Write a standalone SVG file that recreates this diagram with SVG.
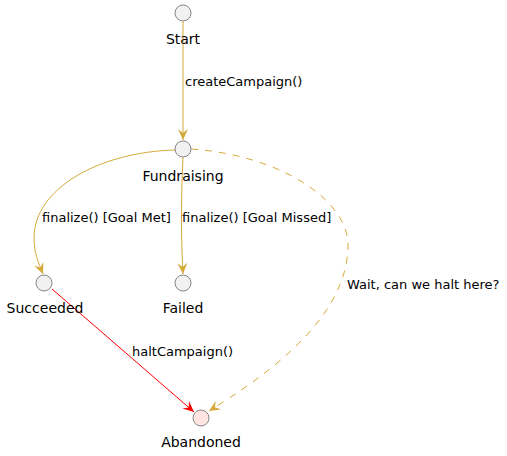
<svg xmlns="http://www.w3.org/2000/svg" width="507" height="456" viewBox="0 0 507 456">
<style>
text{font-family:"DejaVu Sans",sans-serif;font-size:13px;fill:#000}
text.n{font-size:14px;text-anchor:middle}
.st{fill:#F1F1F1;stroke:#888;stroke-width:1}
.ab{fill:#FFE4E1;stroke:#888;stroke-width:1}
.e{fill:none;stroke:#D4AA3A;stroke-width:1}
.d{stroke-dasharray:7,7}
.r{fill:none;stroke:#FF0000;stroke-width:1}
</style>
<defs>
<marker id="ag" viewBox="0 0 12 10" refX="11" refY="5" markerWidth="12" markerHeight="10" markerUnits="userSpaceOnUse" orient="auto">
<polygon points="0,0 11,5 0,10 4,5" fill="#D4AA3A"/>
</marker>
<marker id="ar" viewBox="0 0 12 10" refX="11" refY="5" markerWidth="12" markerHeight="10" markerUnits="userSpaceOnUse" orient="auto">
<polygon points="0,0 11,5 0,10 4,5" fill="#FF0000"/>
</marker>
</defs>
<g id="connectors">
<g id="e1"><path class="e" d="M183,21 L183,140" marker-end="url(#ag)"/><text x="185" y="86">createCampaign()</text></g>
<g id="e2"><path class="e" d="M175,150 C100,152 34,188 34,238 C34,252 38,262 43,274" marker-end="url(#ag)"/><text x="42" y="222">finalize() [Goal Met]</text></g>
<g id="e3"><path class="e" d="M183,157 C181,200 181,240 183,274" marker-end="url(#ag)"/><text x="182" y="222">finalize() [Goal Missed]</text></g>
<g id="e4"><path class="e d" d="M191,149 C280,155 348,200 348,245 C348,320 262,378 209,411" marker-end="url(#ag)"/><text x="347" y="289">Wait, can we halt here?</text></g>
<g id="e5"><path class="r" d="M52,289 L194,412" marker-end="url(#ar)"/><text x="132" y="356">haltCampaign()</text></g>
</g>
<g id="Start"><circle class="st" cx="183" cy="13" r="8"/><text class="n" x="183" y="44">Start</text></g>
<g id="Fundraising"><circle class="st" cx="183" cy="149" r="8"/><text class="n" x="183" y="181">Fundraising</text></g>
<g id="Succeeded"><circle class="st" cx="44" cy="283" r="8"/><text class="n" x="45" y="313">Succeeded</text></g>
<g id="Failed"><circle class="st" cx="183" cy="283" r="8"/><text class="n" x="183" y="313">Failed</text></g>
<g id="Abandoned"><circle class="ab" cx="201" cy="418" r="8"/><text class="n" x="201" y="447">Abandoned</text></g>
</svg>
